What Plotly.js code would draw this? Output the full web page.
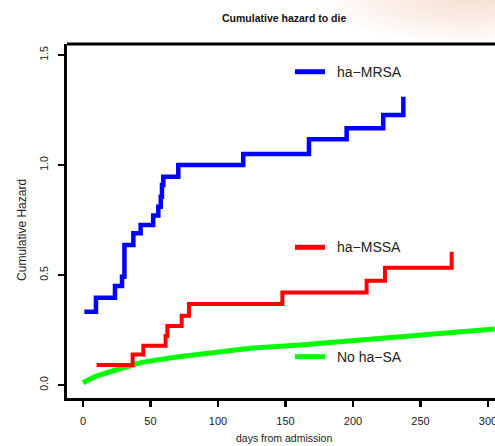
<!DOCTYPE html>
<html>
<head>
<meta charset="utf-8">
<script src="https://cdn.plot.ly/plotly-3.0.1.min.js"></script>
<style>
html, body { margin:0; padding:0; width:495px; height:446px; overflow:hidden; }
body { background:
  radial-gradient(ellipse 150px 48px at 470px -4px, rgba(238,196,170,0.55), rgba(238,196,170,0.25) 60%, rgba(255,255,255,0) 100%), #ffffff; }
#chart { width:495px; height:446px; }
</style>
</head>
<body>
<div id="chart"></div>
<script>
// ha-MRSA cumulative hazard (step function)
const mrsaDays = [1, 9.6, 23.7, 28.9, 30.7, 37.3, 42.7, 52, 55.8, 57.6, 58.5, 59.5, 70.6, 118.7, 167.4, 195.3, 222.4, 237.3];
const mrsaHaz  = [0.333, 0.397, 0.45, 0.492, 0.636, 0.69, 0.727, 0.77, 0.81, 0.856, 0.909, 0.947, 1.0, 1.05, 1.117, 1.167, 1.227, 1.31];
// ha-MSSA cumulative hazard (step function)
const mssaDays = [10.1, 36.8, 44.7, 61.2, 62.5, 73.1, 78.5, 147.7, 210.1, 223.7, 273.1];
const mssaHaz  = [0.091, 0.139, 0.179, 0.223, 0.268, 0.315, 0.368, 0.42, 0.474, 0.533, 0.606];
// No ha-SA cumulative hazard
const noDays = [0, 8.9, 18.8, 31.1, 43.5, 68.1, 92.8, 123.7, 160.7, 197.8, 234.8, 271.9, 305];
const noHaz  = [0.01, 0.038, 0.058, 0.08, 0.103, 0.126, 0.144, 0.167, 0.182, 0.201, 0.22, 0.24, 0.255];

const seriesNames = ["ha\u2212MRSA", "ha\u2212MSSA", "No ha\u2212SA"];
const xTicks = [0, 50, 100, 150, 200, 250, 300];
const yTicks = [0.0, 0.5, 1.0, 1.5];

const titleText = "Cumulative hazard to die";
const xTitle = "days from admission";
const yTitle = "Cumulative Hazard";

const font = "Liberation Sans, Arial, sans-serif";
const colors = ["#0000ff", "#ff0000", "#00ff00"];

const traces = [
  {x: noDays, y: noHaz, mode: "lines", line: {color: colors[2], width: 5, shape: "linear"}, showlegend: false, hoverinfo: "skip"},
  {x: mssaDays, y: mssaHaz, mode: "lines", line: {color: colors[1], width: 4, shape: "hv"}, showlegend: false, hoverinfo: "skip"},
  {x: mrsaDays, y: mrsaHaz, mode: "lines", line: {color: colors[0], width: 4.5, shape: "hv"}, showlegend: false, hoverinfo: "skip"}
];

// manual legend positions (data coordinates)
const legX0 = 157, legX1 = 179.3, legTextX = 186.5;
const legY = [1.424, 0.626, 0.129];

const shapes = [
  // top frame line
  {type: "line", xref: "paper", yref: "paper", x0: 0, x1: 1.02, y0: 1, y1: 1, line: {color: "#000", width: 3}},
];
const annotations = [
  {text: yTitle, xref: "paper", yref: "paper", x: -0.105, y: 0.475, textangle: -90, showarrow: false,
   font: {family: font, size: 12, color: "#222"}, xanchor: "center", yanchor: "middle"},
  {text: xTitle, xref: "paper", yref: "paper", x: 0.507, y: -0.114, showarrow: false,
   font: {family: font, size: 10.5, color: "#222"}, xanchor: "center", yanchor: "middle"}
];
seriesNames.forEach((n, i) => {
  shapes.push({type: "line", xref: "x", yref: "y", x0: legX0, x1: legX1, y0: legY[i], y1: legY[i],
    line: {color: colors[i], width: 5}});
  annotations.push({text: n, xref: "x", yref: "y", x: legTextX, y: legY[i], xanchor: "left", yanchor: "middle",
    showarrow: false, font: {family: font, size: 14, color: "#222"}});
});

const layout = {
  width: 495, height: 446,
  margin: {l: 67, r: 0, t: 44, b: 48, pad: 0},
  paper_bgcolor: "rgba(0,0,0,0)",
  plot_bgcolor: "#ffffff",
  title: {text: titleText, x: 0.574, xref: "container", y: 0.96, yref: "container", xanchor: "center", yanchor: "middle",
    font: {family: font, size: 10.5, color: "#111", weight: "bold"}},
  xaxis: {range: [-11.85, 305.2], tickvals: xTicks, ticktext: xTicks.map(String), ticklabeloverflow: "allow",
    showline: true, linecolor: "#000", linewidth: 3, ticks: "outside", ticklen: 6, tickwidth: 2.5, tickcolor: "#000",
    showgrid: false, zeroline: false, tickfont: {family: font, size: 11, color: "#222"}, ticklabelstandoff: 5},
  yaxis: {range: [-0.059, 1.55], tickvals: yTicks, ticktext: yTicks.map(v => v.toFixed(1)), tickangle: -90,
    showline: true, linecolor: "#000", linewidth: 3, ticks: "outside", ticklen: 6, tickwidth: 2.5, tickcolor: "#000",
    showgrid: false, zeroline: false, tickfont: {family: font, size: 10.5, color: "#222"}, ticklabelstandoff: 6},
  shapes: shapes,
  annotations: annotations,
  showlegend: false
};

Plotly.newPlot("chart", traces, layout, {displayModeBar: false, staticPlot: true});
</script>
</body>
</html>
